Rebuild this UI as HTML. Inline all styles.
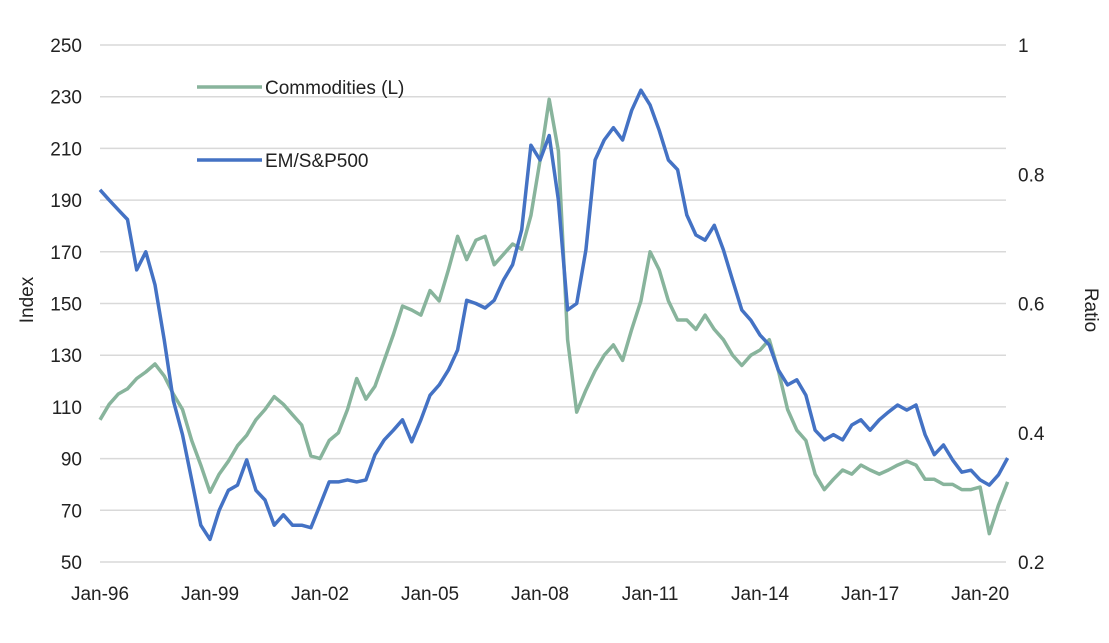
<!DOCTYPE html>
<html><head><meta charset="utf-8">
<style>
html,body{margin:0;padding:0;background:#fff;}
svg text{font-family:"Liberation Sans",sans-serif;fill:#222;}
</style></head>
<body>
<svg id="chart" width="1109" height="638" viewBox="0 0 1109 638" xmlns="http://www.w3.org/2000/svg">
<g id="grid"></g>
<g id="lticks"></g>
<g id="rticks"></g>
<g id="xticks"></g>
<text x="0" y="0" transform="translate(33,300) rotate(-90)" text-anchor="middle" font-size="19">Index</text>
<text x="0" y="0" transform="translate(1085,310) rotate(90)" text-anchor="middle" font-size="19">Ratio</text>
<path id="comm" fill="none" stroke="#88B49C" stroke-width="3.5" stroke-linejoin="round"/>
<path id="em" fill="none" stroke="#4472C4" stroke-width="3.5" stroke-linejoin="round"/>
<g>
<line x1="197" y1="87" x2="262" y2="87" stroke="#88B49C" stroke-width="3.5"/>
<text x="265" y="94" font-size="19">Commodities (L)</text>
</g>
<g>
<line x1="197" y1="160" x2="262" y2="160" stroke="#4472C4" stroke-width="3.5"/>
<text x="265" y="167" font-size="19">EM/S&amp;P500</text>
</g>
</svg>
<script>
// quarterly observations starting Jan-96, final point Oct-20
const commodities = [105,111,115,117,121,123.5,126.6,122,115,109,97,87.5,77,84,89,95,99,105,109,114,111,107,103,91,90,97,100,109,121,113,118,128,138,149,147.5,145.5,155,151,163,176,167,174.5,176,165,169,173,171,184,205.5,229,209,136,108,116.5,124,130,134,128,140,151,170,163,151,143.6,143.6,140,145.5,140,136,130,126,130,132,136,124,109,101,97,84,78,82,85.6,84,87.5,85.6,84,85.6,87.5,89,87.5,82,82,80,80,78,78,79,61,72,81];
const emRatio = [0.776,0.76,0.745,0.73,0.652,0.68,0.629,0.544,0.45,0.397,0.327,0.257,0.235,0.28,0.311,0.319,0.358,0.311,0.296,0.257,0.273,0.257,0.257,0.253,0.288,0.324,0.324,0.327,0.324,0.327,0.366,0.389,0.404,0.42,0.386,0.42,0.458,0.474,0.497,0.528,0.605,0.6,0.593,0.605,0.636,0.66,0.714,0.845,0.822,0.86,0.76,0.59,0.6,0.683,0.822,0.853,0.872,0.853,0.899,0.93,0.907,0.868,0.822,0.807,0.737,0.706,0.698,0.721,0.683,0.636,0.59,0.574,0.551,0.536,0.497,0.474,0.482,0.458,0.404,0.389,0.397,0.389,0.412,0.42,0.404,0.42,0.432,0.443,0.435,0.443,0.397,0.366,0.381,0.358,0.339,0.342,0.327,0.319,0.335,0.361];
const leftTicks = [50,70,90,110,130,150,170,190,210,230,250];
const rightTicks = ["0.2","0.4","0.6","0.8","1"];
const xLabels = ["Jan-96","Jan-99","Jan-02","Jan-05","Jan-08","Jan-11","Jan-14","Jan-17","Jan-20"];

const ns="http://www.w3.org/2000/svg";
const xM = m => 100 + m*3.056;
const yL = v => 562 - (v-50)*2.585;
const yR = r => 562 - (r-0.2)*646.25;
function mk(tag, attrs, parent, txt){const e=document.createElementNS(ns,tag);for(const k in attrs)e.setAttribute(k,attrs[k]);if(txt!==undefined)e.textContent=txt;parent.appendChild(e);return e;}
const grid=document.getElementById('grid'), lt=document.getElementById('lticks'), rt=document.getElementById('rticks'), xt=document.getElementById('xticks');
leftTicks.forEach(v=>{
  const g=mk('line',{x1:100,x2:1006,y1:yL(v),y2:yL(v),stroke:'#d9d9d9','stroke-width':1.5},grid);
  
  
  const t=mk('text',{x:82,y:yL(v)+7,'text-anchor':'end','font-size':19},lt,v);
  
  
});
rightTicks.forEach(v=>{
  const t=mk('text',{x:1018,y:yR(parseFloat(v))+7,'text-anchor':'start','font-size':19},rt,v);
  
  
});
xLabels.forEach((s,i)=>{
  const t=mk('text',{x:xM(i*36),y:600,'text-anchor':'middle','font-size':19},xt,s);
  
  
});
const pathOf=(arr,fy)=>arr.map((v,i)=>(i?'L':'M')+xM(i*3).toFixed(1)+','+fy(v).toFixed(1)).join('');
document.getElementById('comm').setAttribute('d',pathOf(commodities,yL));
document.getElementById('em').setAttribute('d',pathOf(emRatio,yR));
</script>
</body></html>
